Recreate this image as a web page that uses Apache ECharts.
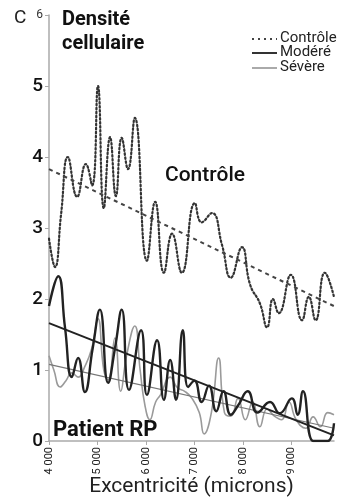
<!DOCTYPE html>
<html>
<head>
<meta charset="utf-8">
<script src="https://cdn.jsdelivr.net/npm/echarts@6/dist/echarts.min.js"></script>
<style>
html,body{margin:0;padding:0;background:#fff;}
#c{width:355px;height:497px;}
</style>
</head>
<body>
<div id="c"></div>
<script>
// Data (excentricité in microns, cell density)
var xTicks = [4000, 5000, 6000, 7000, 8000, 9000];
var yTicks = [0, 1, 2, 3, 4, 5, 6];

var controleX = [4000,4124,4250,4390,4580,4760,4890,5010,5130,5260,5380,5500,5630,5770,6020,6190,6370,6540,6740,7010,7150,7360,7570,7750,7980,8150,8350,8500,8620,8740,8990,9220,9360,9500,9690,9880];
var controleY = [2.85,2.45,3.2,4.0,3.44,3.9,3.6,5.0,3.28,4.28,3.45,4.27,3.83,4.55,2.54,3.37,2.37,2.92,2.37,3.35,3.08,3.21,2.76,2.3,2.73,2.2,1.94,1.6,2.0,1.8,2.34,1.7,2.03,1.7,2.37,2.03];

var modereX = [4000,4190,4330,4470,4600,4740,4900,5050,5220,5360,5500,5650,5900,6020,6230,6370,6500,6620,6760,6870,7000,7150,7300,7450,7600,7750,7900,8100,8300,8560,8760,9010,9130,9240,9450,9600,9750,9880];
var modereY = [1.9,2.32,1.6,0.9,1.17,0.69,1.3,1.85,0.82,1.3,1.85,0.72,1.56,0.65,1.42,0.58,1.14,0.58,1.56,0.76,0.85,0.55,0.78,0.42,0.7,0.37,0.5,0.7,0.4,0.55,0.39,0.6,0.37,0.7,0.0,0.0,0.0,0.25];

var severeX = [4000,4100,4230,4350,4470,4600,4740,4880,5010,5130,5220,5360,5480,5600,5770,5880,5980,6080,6200,6300,6500,6650,6800,6950,7100,7200,7350,7500,7620,7750,7900,8050,8200,8350,8500,8650,8800,8950,9100,9300,9450,9600,9750,9880];
var severeY = [1.2,1.0,0.76,0.85,0.96,0.9,1.05,1.3,1.72,1.0,0.86,1.45,0.7,1.2,1.62,1.0,0.5,0.3,0.55,0.65,0.9,0.75,0.7,0.6,0.4,0.1,0.4,1.17,0.4,0.35,0.6,0.3,0.55,0.2,0.45,0.35,0.3,0.55,0.3,0.18,0.34,0.2,0.4,0.37];

var trendX = [4000, 9880];
var controleTrend = [3.83, 1.9];
var modereTrend = [1.66, 0.08];
var severeTrend = [1.08, 0.18];

function pairs(xs, ys){ return xs.map(function(x,i){ return [x, ys[i]]; }); }

var FONT = 'Roboto, "DejaVu Sans", sans-serif';
var chart = echarts.init(document.getElementById('c'), null, {renderer:'canvas'});
chart.setOption({
  animation: false,
  backgroundColor: '#fff',
  textStyle: { fontFamily: FONT },
  grid: { left: 49, right: 21, top: 15, bottom: 56, containLabel: false, outerBoundsMode: 'none' },
  xAxis: {
    type: 'value', min: 4000, max: 9880, interval: 1000,
    axisLine: { show: true, lineStyle: { color: '#aaa', width: 1.5 } },
    axisTick: { show: true, length: 4, lineStyle: { color: '#aaa' } },
    splitLine: { show: false },
    axisLabel: {
      rotate: 90, margin: 6, fontSize: 11, color: '#222', fontFamily: FONT,
      showMaxLabel: false,
      formatter: function(v){ return String(v).replace(/\B(?=(\d{3})+(?!\d))/g, ' '); }
    },
    name: 'Excentricité (microns)', nameLocation: 'middle', nameGap: 46, nameMoveOverlap: false,
    nameTextStyle: { fontSize: 21, color: '#222', fontFamily: FONT, verticalAlign: 'middle' }
  },
  yAxis: {
    type: 'value', min: 0, max: 6, interval: 1,
    axisLine: { show: true, lineStyle: { color: '#aaa', width: 1.5 } },
    axisTick: { show: true, length: 4, lineStyle: { color: '#aaa' } },
    splitLine: { show: false },
    axisLabel: {
      margin: 6,
      formatter: function(v){ return v === 6 ? '{s|6}' : '{b|' + v + '}'; },
      rich: {
        s: { fontSize: 12, color: '#333', fontFamily: FONT },
        b: { fontSize: 19, fontWeight: 500, color: '#111', fontFamily: FONT }
      }
    }
  },
  series: [
    { name: 'Contrôle', type: 'line', data: pairs(controleX, controleY), smooth: 0.5, showSymbol: false,
      lineStyle: { color: '#333', width: 2.2, type: [1.6, 2.4], cap: 'round' }, z: 3 },
    { name: 'Contrôle tendance', type: 'line', data: pairs(trendX, controleTrend), showSymbol: false,
      lineStyle: { color: '#444', width: 2, type: [4, 4] }, z: 3 },
    { name: 'Sévère', type: 'line', data: pairs(severeX, severeY), smooth: 0.5, showSymbol: false,
      lineStyle: { color: '#9a9a9a', width: 1.6 }, z: 2 },
    { name: 'Sévère tendance', type: 'line', data: pairs(trendX, severeTrend), showSymbol: false,
      lineStyle: { color: '#777', width: 1.2 }, z: 2 },
    { name: 'Modéré', type: 'line', data: pairs(modereX, modereY), smooth: 0.5, showSymbol: false,
      lineStyle: { color: '#222', width: 2.4 }, z: 4 },
    { name: 'Modéré tendance', type: 'line', data: pairs(trendX, modereTrend), showSymbol: false,
      lineStyle: { color: '#222', width: 2 }, z: 4 }
  ],
  graphic: [
    { type: 'text', left: 14, top: 9, style: { text: 'C', font: '19px ' + FONT, fill: '#222' } },
    { type: 'text', left: 62, top: 8, style: { text: 'Densité\ncellulaire', font: 'bold 20px ' + FONT, lineHeight: 24, fill: '#111' } },
    { type: 'text', left: 165, top: 165, style: { text: 'Contrôle', font: '500 21px ' + FONT, fill: '#111' } },
    { type: 'text', left: 53, top: 419, style: { text: 'Patient RP', font: 'bold 22px ' + FONT, fill: '#111' } },
    // legend
    { type: 'line', shape: { x1: 252, y1: 39, x2: 277, y2: 39 }, style: { stroke: '#444', lineWidth: 2, lineDash: [2, 4] } },
    { type: 'text', left: 280, top: 31, style: { text: 'Contrôle', font: '15px ' + FONT, fill: '#222' } },
    { type: 'line', shape: { x1: 252, y1: 53, x2: 277, y2: 53 }, style: { stroke: '#333', lineWidth: 2 } },
    { type: 'text', left: 280, top: 45, style: { text: 'Modéré', font: '15px ' + FONT, fill: '#222' } },
    { type: 'line', shape: { x1: 252, y1: 68, x2: 277, y2: 68 }, style: { stroke: '#aaa', lineWidth: 2 } },
    { type: 'text', left: 280, top: 60, style: { text: 'Sévère', font: '15px ' + FONT, fill: '#222' } }
  ]
});
</script>
</body>
</html>
